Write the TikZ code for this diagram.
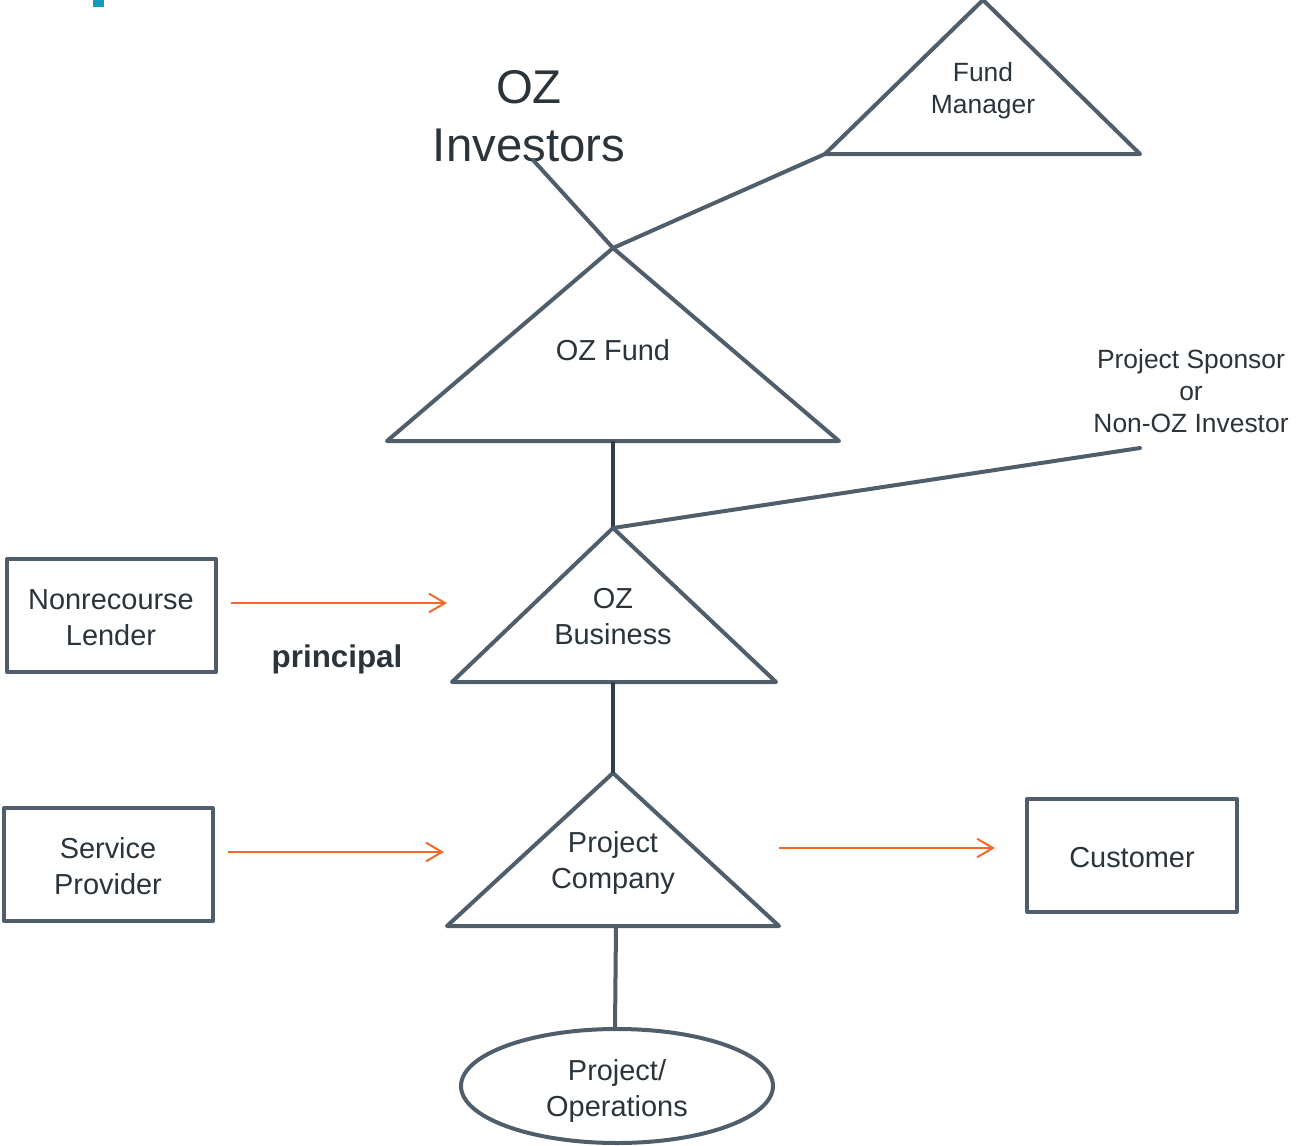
\documentclass[tikz,border=0pt]{standalone}
\usepackage{fontspec}
\setmainfont{Liberation Sans}
\usetikzlibrary{arrows.meta}
\definecolor{shapeline}{HTML}{4F5E6A}
\definecolor{connline}{HTML}{313D47}
\definecolor{txt}{HTML}{2B333B}
\definecolor{flow}{HTML}{F26A2A}
\definecolor{teal}{HTML}{1798BD}
\tikzset{
  shapeoutline/.style={draw=shapeline,line width=3pt,line join=round},
  link/.style={draw=shapeline,line width=3pt,line cap=round},
  vlink/.style={draw=connline,line width=3pt},
  flowarrow/.style={draw=flow,line width=1.5pt,-{Straight Barb[length=12pt,width=14pt,line width=1.5pt]}},
  maintext/.style={text=txt,anchor=base,align=center,inner sep=0pt,font=\fontsize{21.7}{26.5}\selectfont},
  smalltext/.style={text=txt,anchor=base,align=center,inner sep=0pt,font=\fontsize{19.8}{24}\selectfont},
  bigtext/.style={text=txt,anchor=base,align=center,inner sep=0pt,font=\fontsize{35.5}{43.5}\selectfont},
}
\begin{document}
\begin{tikzpicture}[x=0.75pt,y=-0.75pt]
\path[use as bounding box] (0,0) rectangle (1297,1146);
\fill[teal] (93,0) rectangle (104,7);

% Fund Manager triangle
\coordinate (fmapex) at (983,0);
\coordinate (fmleft) at (825,154);
\draw[shapeoutline] (fmapex) -- (1140,154) -- (fmleft) -- cycle;
\node[smalltext] (fmtext) at (983,113.5) {Fund\\Manager};

% OZ Fund triangle
\coordinate (fundapex) at (613,248);
\coordinate (fundbase) at (613,441);
\draw[shapeoutline] (fundapex) -- (839,441) -- (387,441) -- cycle;
\node[maintext] (fundtext) at (613,360) {OZ Fund};

% OZ Business triangle
\coordinate (bizapex) at (613,528);
\coordinate (bizbase) at (613,682);
\draw[shapeoutline] (bizapex) -- (776,682) -- (452,682) -- cycle;
\node[maintext] (biztext) at (613,644) {OZ\\Business};

% Project Company triangle
\coordinate (pcapex) at (613,773);
\coordinate (pcbase) at (616,926);
\draw[shapeoutline] (pcapex) -- (779,926) -- (447,926) -- cycle;
\node[maintext] (pctext) at (613,888) {Project\\Company};

% Project/Operations ellipse
\draw[shapeoutline] (617,1086) ellipse [x radius=156, y radius=57];
\coordinate (optop) at (615,1029);
\node[maintext] (optext) at (617,1116) {Project/\\Operations};

% Boxes
\draw[shapeoutline] (7,559) rectangle (216,672);
\node[maintext] (lender) at (111,645) {Nonrecourse\\Lender};
\coordinate (lenderout) at (231,603);
\coordinate (lenderin) at (447,603);

\draw[shapeoutline] (4,808) rectangle (213,921);
\node[maintext] (provider) at (108,894) {Service\\Provider};
\coordinate (providerout) at (228,852);
\coordinate (providerin) at (444,852);

\draw[shapeoutline] (1027,799) rectangle (1237,912);
\node[maintext] (customer) at (1132,867) {Customer};
\coordinate (custout) at (779,848);
\coordinate (custin) at (995,848);

% Texts
\node[bigtext] (investors) at (529,161) {OZ\\Investors};
\coordinate (invend) at (533,160);
\node[smalltext] (sponsor) at (1191,432) {Project Sponsor\\or\\Non-OZ Investor};
\coordinate (sponsorend) at (1140,448);
\node[text=txt,anchor=base,inner sep=0pt,font=\fontsize{23.5}{28}\selectfont\bfseries] (principal) at (337,667) {principal};

% Connectors
\draw[link] (invend) -- (fundapex);
\draw[link] (fundapex) -- (fmleft);
\draw[vlink] (fundbase) -- (bizapex);
\draw[link] (bizapex) -- (sponsorend);
\draw[vlink] (bizbase) -- (pcapex);
\draw[link] (pcbase) -- (optop);

% Flows
\draw[flowarrow] (lenderout) -- (lenderin);
\draw[flowarrow] (providerout) -- (providerin);
\draw[flowarrow] (custout) -- (custin);
\end{tikzpicture}
\end{document}
